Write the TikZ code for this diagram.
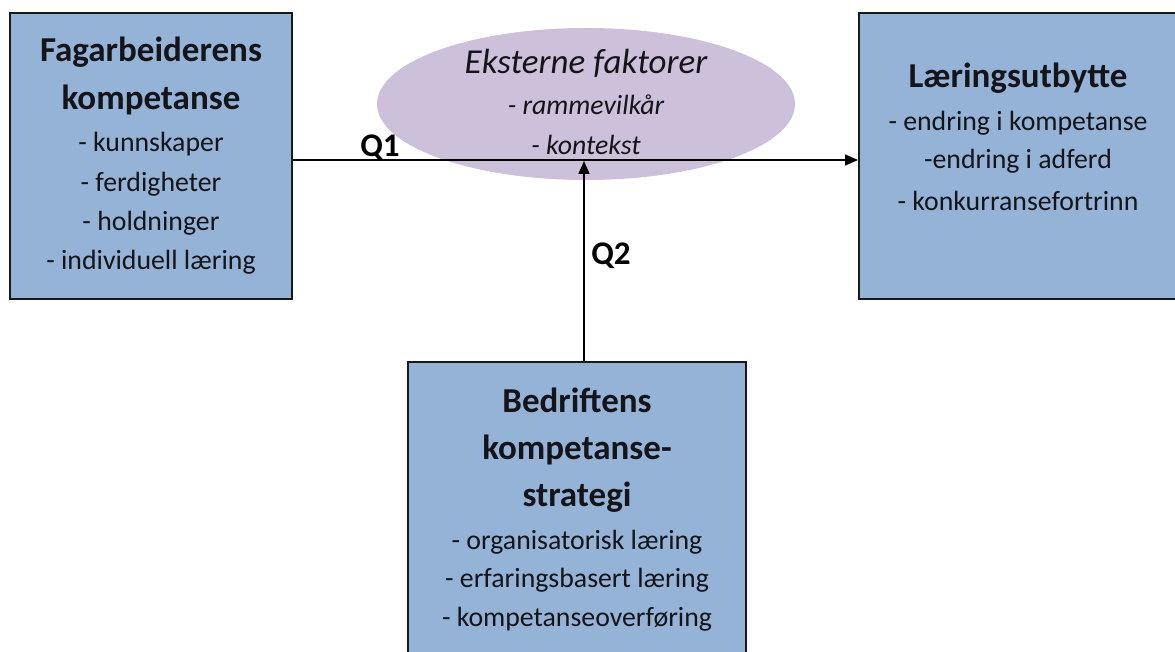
\documentclass[tikz,border=0pt]{standalone}
\usepackage{fontspec}
\setmainfont{Carlito}
\usetikzlibrary{arrows.meta,shapes.geometric}
\definecolor{boxblue}{RGB}{149,179,215}
\definecolor{ellpurple}{RGB}{204,192,218}
\definecolor{txt}{RGB}{20,20,25}
\tikzset{
  boxst/.style={draw=black!90, line width=2pt, fill=boxblue, inner sep=0pt},
  ttl/.style={font=\fontsize{35}{40}\selectfont\bfseries, text=txt, inner sep=0pt, anchor=center},
  itm/.style={font=\fontsize{27.8}{32}\selectfont, text=txt, inner sep=0pt, anchor=center},
  eit/.style={font=\fontsize{27.8}{32}\selectfont\itshape, text=txt, inner sep=0pt, anchor=center},
  qlab/.style={font=\fontsize{33}{38}\selectfont\bfseries, text=black, inner sep=0pt},
  conn/.style={line width=1.6pt, -{Triangle[length=13pt,width=11pt]}},
}
\begin{document}
\begin{tikzpicture}[x=1pt,y=-1pt]
\useasboundingbox (0,0) rectangle (1175,652);
% boxes
\node[boxst, minimum width=282, minimum height=286] (lb) at (151,156) {};
\node[boxst, minimum width=319, minimum height=286] (rb) at (1018.5,156) {};
\node[boxst, minimum width=338, minimum height=310] (bb) at (577,517) {};
\node[ellipse, fill=ellpurple, minimum width=418, minimum height=152, inner sep=0pt] (el) at (586,104) {};
% left box text
\node[ttl] (l1) at (151,52) {Fagarbeiderens};
\node[ttl] (l2) at (151,100) {kompetanse};
\node[itm] (l3) at (151,144) {- kunnskaper};
\node[itm] (l4) at (151,184) {- ferdigheter};
\node[itm] (l5) at (151,223) {- holdninger};
\node[itm] (l6) at (151,262) {- individuell læring};
% ellipse text
\node[eit, font=\fontsize{35}{40}\selectfont\itshape] (e1) at (586,63) {Eksterne faktorer};
\node[eit] (e2) at (586,105) {- rammevilkår};
\node[eit] (e3) at (586,145) {- kontekst};
% right box text
\node[ttl] (r1) at (1018,78) {Læringsutbytte};
\node[itm] (r2) at (1018,123) {- endring i kompetanse};
\node[itm] (r3) at (1018,161) {-endring i adferd};
\node[itm] (r4) at (1018,201) {- konkurransefortrinn};
% bottom box text
\node[ttl] (b1) at (577,400) {Bedriftens};
\node[ttl] (b2) at (577,450) {kompetanse-};
\node[ttl] (b3) at (577,497) {strategi};
\node[itm] (b4) at (577,542) {- organisatorisk læring};
\node[itm] (b5) at (577,580) {- erfaringsbasert læring};
\node[itm] (b6) at (577,619) {- kompetanseoverføring};
% connectors
\draw[conn] ([yshift=-4]lb.east) -- ([yshift=-4]rb.west);
\coordinate (meet) at ([xshift=7]bb.north |- 0,161);
\draw[conn] ([xshift=7]bb.north) -- (meet);
\node[qlab] (q1) at (380,148) {Q1};
\node[qlab] (q2) at (611,256) {Q2};
\end{tikzpicture}
\end{document}
